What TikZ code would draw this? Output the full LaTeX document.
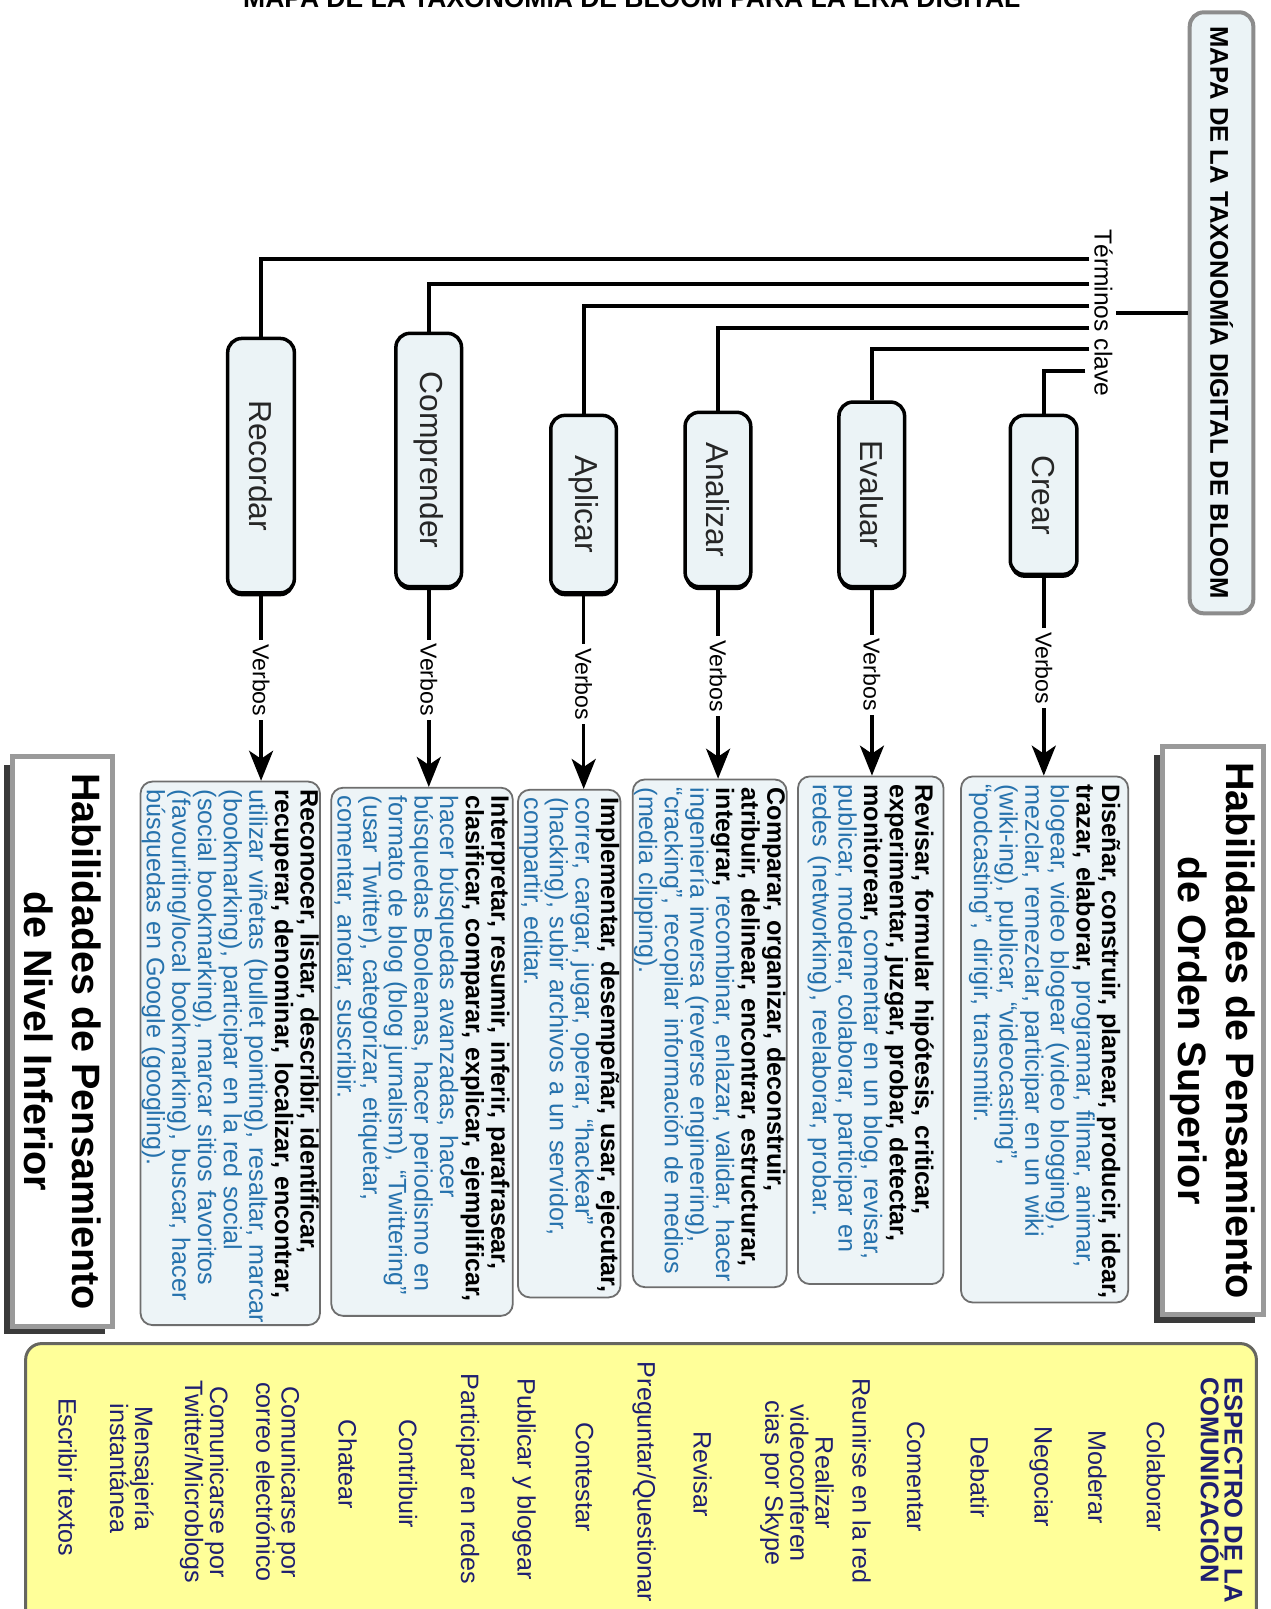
\documentclass[tikz,border=0pt]{standalone}
\usepackage{fontspec}
\setmainfont{Liberation Sans}
\usetikzlibrary{arrows.meta}
\definecolor{labelfill}{HTML}{EBF3F6}
\definecolor{boxfill}{HTML}{EDF4F7}
\definecolor{boxgray}{HTML}{6E6E6E}
\definecolor{mapgray}{HTML}{8C8C8C}
\definecolor{habgray}{HTML}{9A9A9A}
\definecolor{shadowc}{HTML}{3A3A3A}
\definecolor{vblue}{HTML}{2672AD}
\definecolor{navy}{HTML}{1E1E70}
\definecolor{yfill}{HTML}{FFFF99}
\definecolor{yborder}{HTML}{666660}
\newcommand\bk[1]{\textbf{#1}}
\newcommand\bl[1]{\textcolor{vblue}{#1}}
\tikzset{
  lbl/.style={draw=black, line width=3.5pt, fill=labelfill, rounded corners=14pt, rotate=-90,
    preaction={fill=black, transform canvas={yshift=-3.5pt}},
    font=\fontsize{31}{34}\selectfont, text=black!85, inner sep=0pt},
  vbox/.style={draw=boxgray, line width=1.8pt, fill=boxfill, rounded corners=12pt, rotate=-90,
    align=left, inner sep=0pt, font=\fontsize{24.5}{25}\selectfont},
  tline/.style={line width=4pt},
  varr/.style={line width=3.5pt, -{Stealth[length=30pt,width=24pt,inset=8pt]}},
  vlabel/.style={rotate=-90, fill=white, inner sep=4pt, font=\fontsize{22.5}{25}\selectfont},
  habbox/.style={draw=habgray, line width=5pt, fill=white, rotate=-90, align=center,
    font=\bfseries\fontsize{38.6}{47}\selectfont, inner sep=0pt},
  ybox/.style={draw=yborder, line width=3pt, fill=yfill, rounded corners=16pt},
  yitem/.style={rotate=-90, text=navy, align=center, font=\fontsize{24.5}{24.5}\selectfont, inner sep=2pt},
  ytitle/.style={rotate=-90, text=navy, align=left, font=\bfseries\fontsize{25}{23}\selectfont, inner sep=0pt},
}
\begin{document}
\begin{tikzpicture}[x=1pt,y=-1pt,scale=1.0256,every node/.append style={transform shape}]
\useasboundingbox (0,0) rectangle (1238.3,1568.8);

% title (partly cut off at top)
\node[font=\bfseries\fontsize{25.8}{30}\selectfont, anchor=base] (title) at (616,7)
  {MAPA DE LA TAXONOMÍA DE BLOOM PARA LA ERA DIGITAL};

% yellow box
\draw[ybox] (25,1310) rectangle (1225,1660);
\node[ytitle, anchor=west] (esp) at (1191,1343) {ESPECTRO DE LA\\COMUNICACIÓN};
\node[yitem] (y1) at (1127,1440) {Colaborar};
\node[yitem] (y2) at (1070,1440) {Moderar};
\node[yitem] (y3) at (1015,1440) {Negociar};
\node[yitem] (y4) at (955,1440) {Debatir};
\node[yitem] (y5) at (893,1440) {Comentar};
\node[yitem] (y6) at (840,1444) {Reunirse en la red};
\node[yitem] (y7) at (777,1446) {Realizar\\videoconferen\\cias por Skype};
\node[yitem] (y8) at (685,1437) {Revisar};
\node[yitem] (y9) at (628,1445) {Preguntar/Questionar};
\node[yitem] (y10) at (570,1440) {Contestar};
\node[yitem] (y11) at (511,1442) {Publicar y blogear};
\node[yitem] (y12) at (456,1442) {Participar en redes};
\node[yitem] (y13) at (398,1437) {Contribuir};
\node[yitem] (y14) at (339,1428) {Chatear};
\node[yitem] (y15) at (271,1445) {Comunicarse por\\correo electrónico};
\node[yitem] (y16) at (199,1445) {Comunicarse por\\Twitter/Microblogs};
\node[yitem] (y17) at (128.5,1432) {Mensajería\\instantánea};
\node[yitem] (y18) at (66,1440) {Escribir textos};

% higher / lower order boxes
\fill[shadowc] (1125,736) rectangle (1224,1290);
\node[habbox, minimum width=554pt, minimum height=99pt] (hsup) at (1182.5,1005)
  {Habilidades de Pensamiento\\de Orden Superior};
\fill[shadowc] (4,746) rectangle (102,1301);
\node[habbox, minimum width=555pt, minimum height=98pt] (hinf) at (61,1015.5)
  {Habilidades de Pensamiento\\de Nivel Inferior};

% main map box
\node[draw=mapgray, line width=4pt, fill=labelfill, rounded corners=14pt, rotate=-90,
  minimum width=586pt, minimum height=62pt, inner sep=0pt,
  font=\bfseries\fontsize{25}{28}\selectfont] (mapa) at (1191,305)
  {MAPA DE LA TAXONOMÍA DIGITAL DE BLOOM};
\node[rotate=-90, font=\fontsize{24}{26}\selectfont, inner sep=3pt] (terminos) at (1076,305)
  {Términos clave};

% level boxes
\node[lbl, minimum width=248pt, minimum height=65pt] (recordar) at (254.5,454) {Recordar};
\node[lbl, minimum width=247pt, minimum height=64pt] (comprender) at (418,448.5) {Comprender};
\node[lbl, minimum width=173pt, minimum height=64pt] (aplicar) at (569,491.5) {Aplicar};
\node[lbl, minimum width=170pt, minimum height=64pt] (analizar) at (700,487) {Analizar};
\node[lbl, minimum width=180pt, minimum height=64pt] (evaluar) at (850,482) {Evaluar};
\node[lbl, minimum width=155pt, minimum height=65pt] (crear) at (1017.5,482.5) {Crear};

% verb boxes
\node[vbox, minimum width=513pt, minimum height=163pt, text width=497pt] (crearT) at (1018.5,1013.5) {%
\mbox{\bk{Diseñar, construir, planear, producir, idear,}}\\
\mbox{\bk{trazar, elaborar,} \bl{programar, filmar, animar,}}\\
\mbox{\bl{blogear, video blogear (video blogging),}}\\
\mbox{\bl{mezclar, remezclar, participar en un wiki}}\\
\mbox{\bl{(wiki-ing), publicar, “videocasting”,}}\\
\mbox{\bl{“podcasting”, dirigir, transmitir.}}};
\node[vbox, minimum width=495pt, minimum height=142pt, text width=479pt] (evaluarT) at (849,1004.5) {%
\mbox{\bk{Revisar, formular hipótesis, criticar,}}\\
\mbox{\bk{experimentar, juzgar, probar, detectar,}}\\
\mbox{\bk{monitorear,} \bl{comentar en un blog, revisar,}}\\
\mbox{\bl{publicar, moderar, colaborar, participar en}}\\
\mbox{\bl{redes (networking), reelaborar, probar.}}};
\node[vbox, minimum width=495pt, minimum height=150pt, text width=479pt] (analizarT) at (692,1007.5) {%
\mbox{\bk{Comparar, organizar, deconstruir,}}\\
\mbox{\bk{atribuir, delinear, encontrar, estructurar,}}\\
\mbox{\bk{integrar,} \bl{recombinar, enlazar, validar, hacer}}\\
\mbox{\bl{ingeniería inversa (reverse engineering),}}\\
\mbox{\bl{“cracking”, recopilar información de medios}}\\
\mbox{\bl{(media clipping).}}};
\node[vbox, minimum width=495pt, minimum height=100pt, text width=479pt] (aplicarT) at (555,1017.5) {%
\mbox{\bk{Implementar, desempeñar, usar, ejecutar,}}\\
\mbox{\bl{correr, cargar, jugar, operar, “hackear”}}\\
\mbox{\bl{(hacking), subir archivos a un servidor,}}\\
\mbox{\bl{compartir, editar.}}};
\node[vbox, minimum width=515pt, minimum height=177pt, text width=499pt] (comprenderT) at (411.5,1025.5) {%
\mbox{\bk{Interpretar, resumir, inferir, parafrasear,}}\\
\mbox{\bk{clasificar, comparar, explicar, ejemplificar,}}\\
\mbox{\bl{hacer búsquedas avanzadas, hacer}}\\
\mbox{\bl{búsquedas Booleanas, hacer periodismo en}}\\
\mbox{\bl{formato de blog (blog jurnalism), “Twittering”}}\\
\mbox{\bl{(usar Twitter), categorizar, etiquetar,}}\\
\mbox{\bl{comentar, anotar, suscribir.}}};
\node[vbox, minimum width=530pt, minimum height=175pt, text width=514pt] (recordarT) at (224.5,1027) {%
\mbox{\bk{Reconocer, listar, describir, identificar,}}\\
\mbox{\bk{recuperar, denominar, localizar, encontrar,}}\\
\mbox{\bl{utilizar viñetas (bullet pointing), resaltar, marcar}}\\
\mbox{\bl{(bookmarking), participar en la red social}}\\
\mbox{\bl{(social bookmarking), marcar sitios favoritos}}\\
\mbox{\bl{(favouriting/local bookmarking), buscar, hacer}}\\
\mbox{\bl{búsquedas en Google (googling).}}};

% connectors from key terms
\draw[tline] (mapa.south) -- (mapa.south -| terminos.north);
\coordinate (t1) at (1062,252);
\coordinate (t2) at (1062,277);
\coordinate (t3) at (1062,298);
\coordinate (t4) at (1062,320);
\coordinate (t5) at (1062,340);
\coordinate (t6) at (1058,362);
\draw[tline] (t1) -| (recordar.west);
\draw[tline] (t2) -| (comprender.west);
\draw[tline] (t3) -| (aplicar.west);
\draw[tline] (t4) -| (analizar.west);
\draw[tline] (t5) -| (evaluar.west);
\draw[tline] (t6) -| (crear.west);

% verb arrows
\draw[varr] (recordar.east) -- (recordar.east |- recordarT.west) node[vlabel, pos=.46] {Verbos};
\draw[varr] (comprender.east) -- (comprender.east |- comprenderT.west) node[vlabel, pos=.46] {Verbos};
\draw[varr] (aplicar.east) -- (aplicar.east |- aplicarT.west) node[vlabel, pos=.46] {Verbos};
\draw[varr] (analizar.east) -- (analizar.east |- analizarT.west) node[vlabel, pos=.46] {Verbos};
\draw[varr] (evaluar.east) -- (evaluar.east |- evaluarT.west) node[vlabel, pos=.46] {Verbos};
\draw[varr] (crear.east) -- (crear.east |- crearT.west) node[vlabel, pos=.46] {Verbos};
\end{tikzpicture}
\end{document}
